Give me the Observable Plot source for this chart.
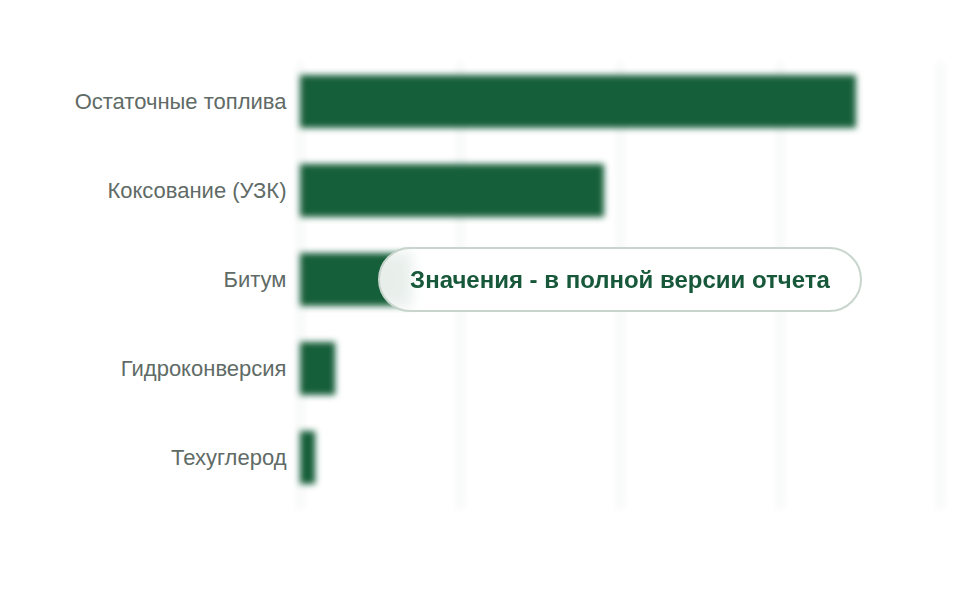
<!DOCTYPE html>
<html>
<head>
<meta charset="utf-8">
<script src="https://cdn.jsdelivr.net/npm/d3@7"></script>
<script src="https://cdn.jsdelivr.net/npm/@observablehq/plot@0.6"></script>
<style>
  html, body { margin: 0; padding: 0; background: #fff; }
  #wrap { position: relative; width: 960px; height: 600px; }
  #pill {
    position: absolute; left: 378px; top: 247px; width: 484px; height: 65px;
    box-sizing: border-box; border: 2px solid #c8d5cd; border-radius: 33px;
    background: rgba(255,255,255,0.9);
    backdrop-filter: blur(6px);
    -webkit-backdrop-filter: blur(6px);
    display: flex; align-items: center; justify-content: center;
    font-family: "Liberation Sans", Arial, sans-serif; font-weight: bold;
    font-size: 24px; color: #17583a;
  }
  #chart svg text { font-size: 22px; }
</style>
</head>
<body>
<div id="wrap">
  <div id="chart"></div>
  <div id="pill">Значения - в полной версии отчета</div>
</div>
<script>
const categories = ["Остаточные топлива", "Коксование (УЗК)", "Битум", "Гидроконверсия", "Техуглерод"];
const values = [69.5, 38, 14, 4.4, 1.9];
const xTicks = [0, 20, 40, 60, 80];

const data = categories.map((c, i) => ({category: c, value: values[i]}));

const plot = Plot.plot({
  width: 960,
  height: 600,
  marginTop: 55,
  marginBottom: 97,
  marginLeft: 300,
  marginRight: 20,
  style: {fontFamily: "'Liberation Sans', Arial, sans-serif", fontSize: "22px", background: "#fff"},
  x: {domain: [0, 80], ticks: xTicks, axis: null},
  y: {domain: categories, padding: 0, label: null},
  marks: [
    Plot.ruleX(xTicks, {stroke: "#f1f3f2", strokeWidth: 5, insetTop: 8, insetBottom: -6}),
    Plot.barX(data, {x: "value", y: "category", fill: "#175e3a", insetTop: 18, insetBottom: 18}),
    Plot.axisY({tickSize: 0, tickPadding: 14, label: null, fill: "#5f6b66", fontSize: 22})
  ]
});

// blur the bars and grid lines to match the reference
const svg = d3.select(plot);
const defs = svg.insert("defs", ":first-child");
defs.append("filter").attr("id", "blurBars").attr("x", "-10%").attr("y", "-30%").attr("width", "120%").attr("height", "160%")
  .append("feGaussianBlur").attr("stdDeviation", 3.2);
defs.append("filter").attr("id", "blurGrid").attr("x", "-200%").attr("width", "500%")
  .append("feGaussianBlur").attr("stdDeviation", 4);
svg.selectAll("g[aria-label='bar']").attr("filter", "url(#blurBars)");
svg.selectAll("g[aria-label='rule']").attr("filter", "url(#blurGrid)");

document.getElementById("chart").appendChild(plot);
</script>
</body>
</html>
